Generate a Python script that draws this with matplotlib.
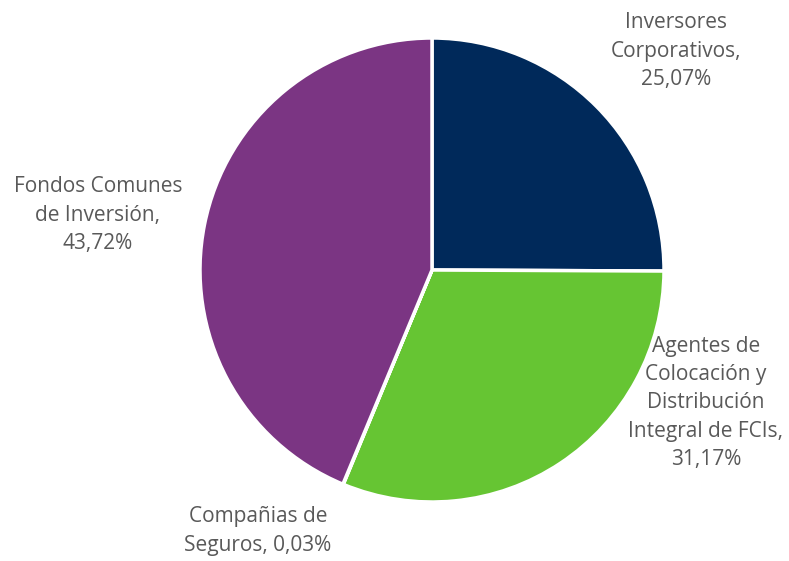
#!/usr/bin/env python3

# Participation by investor type - pie chart

import matplotlib.pyplot as plt

# Data
labels = ["Inversores\nCorporativos,\n25,07%",
          "Agentes de\nColocación y\nDistribución\nIntegral de FCIs,\n31,17%",
          "Compañias de\nSeguros, 0,03%",
          "Fondos Comunes\nde Inversión,\n43,72%"]
shares = [25.07, 31.17, 0.03, 43.72]
colors = ["#00295a", "#66c533", "#7b3583", "#7b3583"]

# label anchor points in pixel coords (x from left, y from top)
label_pos = [(676, 51), (706, 403), (258, 531), (98, 215)]

W, H = 789, 561
fig = plt.figure(figsize=(W / 100, H / 100), dpi=100)
ax = fig.add_axes([0, 0, 1, 1])
ax.set_xlim(0, W)
ax.set_ylim(0, H)
ax.set_aspect('equal')
ax.axis('off')

ax.pie(shares, colors=colors, startangle=90, counterclock=False,
       center=(432, H - 270), radius=232,
       wedgeprops=dict(edgecolor='white', linewidth=2.5))
ax.set_xlim(0, W)
ax.set_ylim(0, H)

for txt, (x, y) in zip(labels, label_pos):
    ax.text(x, H - y, txt, ha='center', va='center', color='#595959',
            fontsize=15, family='Open Sans', linespacing=1.45)

fig.savefig("out.png", dpi=100)
